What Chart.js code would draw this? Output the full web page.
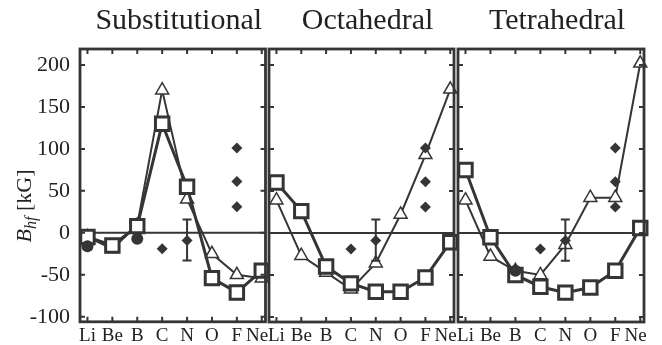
<!DOCTYPE html>
<html>
<head>
<meta charset="utf-8">
<script src="https://cdn.jsdelivr.net/npm/chart.js@4.4.1/dist/chart.umd.min.js"></script>
<style>
  html, body { margin: 0; padding: 0; background: #fff; }
  #wrap { position: relative; width: 662px; height: 345px; }
  #wrap canvas { position: absolute; left: 0; top: 0; }
</style>
</head>
<body>
<div id="wrap">
  <canvas id="sub" width="662" height="345"></canvas>
  <canvas id="oct" width="662" height="345"></canvas>
  <canvas id="tet" width="662" height="345"></canvas>
</div>
<script>
// Impurity elements along the x axis
const elements = ['Li', 'Be', 'B', 'C', 'N', 'O', 'F', 'Ne'];
const yTicks = [-100, -50, 0, 50, 100, 150, 200];

// Calculated hyperfine fields (kG), squares and triangles, per site
const subSquares = [-5, -15, 8, 130, 55, -54, -71, -45];
const subTriangles = [-5, -19, 9, 170, 40, -25, -50, -54];
const octSquares = [60, 26, -40, -60, -70, -70, -53, -11];
const octTriangles = [39, -27, -47, -67, -36, 22, 93, 171];
const tetSquares = [75, -5, -50, -64, -71, -65, -45, 6];
const tetTriangles = [39, -28, -45, -50, -14, 42, 42, 202];

// Experimental values (filled diamonds), same in every panel
const expX = [3, 4, 6, 6, 6];
const expY = [-19, -9, 101, 61, 31];
// Error bar on the N measurement
const errX = 4;
const errLow = -33;
const errHigh = 16;

// Filled circles
const subCircleX = [0, 2];
const subCircleY = [-16, -7];
const tetCircleX = [2];
const tetCircleY = [-45];

const INK = '#353535';
const SERIF = "'Liberation Serif', 'DejaVu Serif', serif";

function pts(xs, ys) { return xs.map((x, i) => ({ x: x, y: ys[i] })); }
function series(ys) { return ys.map((y, i) => ({ x: i, y: y })); }

// Zero line, error bar, panel frame with inward ticks
const framePlugin = {
  id: 'frame',
  beforeDatasetsDraw(chart) {
    const { ctx, chartArea: a, scales: { y } } = chart;
    const y0 = y.getPixelForValue(0);
    ctx.save();
    ctx.strokeStyle = INK;
    ctx.lineWidth = 2;
    ctx.beginPath();
    ctx.moveTo(a.left, y0);
    ctx.lineTo(a.right, y0);
    ctx.stroke();
    ctx.restore();
  },
  afterDatasetsDraw(chart) {
    const { ctx, chartArea: a, scales: { x, y } } = chart;
    ctx.save();
    ctx.strokeStyle = INK;
    // error bar
    const ex = x.getPixelForValue(errX);
    const eLo = y.getPixelForValue(errLow);
    const eHi = y.getPixelForValue(errHigh);
    ctx.lineWidth = 2;
    ctx.beginPath();
    ctx.moveTo(ex, eLo); ctx.lineTo(ex, eHi);
    ctx.moveTo(ex - 4.5, eLo); ctx.lineTo(ex + 4.5, eLo);
    ctx.moveTo(ex - 4.5, eHi); ctx.lineTo(ex + 4.5, eHi);
    ctx.stroke();
    // inward ticks
    const tl = 5;
    ctx.lineWidth = 2;
    ctx.beginPath();
    x.ticks.forEach(t => {
      const px = x.getPixelForValue(t.value);
      ctx.moveTo(px, a.top); ctx.lineTo(px, a.top + tl);
      ctx.moveTo(px, a.bottom); ctx.lineTo(px, a.bottom - tl);
    });
    y.ticks.forEach(t => {
      const py = y.getPixelForValue(t.value);
      ctx.moveTo(a.left, py); ctx.lineTo(a.left + tl, py);
      ctx.moveTo(a.right, py); ctx.lineTo(a.right - tl, py);
    });
    ctx.stroke();
    // frame
    ctx.lineWidth = 2.8;
    ctx.strokeRect(a.left, a.top, a.right - a.left, a.bottom - a.top);
    ctx.restore();
  }
};

// Rotated y-axis title with subscript
const yTitlePlugin = {
  id: 'yTitle',
  afterDraw(chart) {
    const { ctx } = chart;
    const big = 'italic 22px ' + SERIF;
    const small = 'italic 16px ' + SERIF;
    const norm = '22px ' + SERIF;
    ctx.save();
    ctx.font = big; const wB = ctx.measureText('B').width;
    ctx.font = small; const wS = ctx.measureText('hf').width;
    ctx.font = norm; const wU = ctx.measureText(' [kG]').width;
    const total = wB + wS + wU;
    ctx.translate(31, 206);
    ctx.rotate(-Math.PI / 2);
    ctx.fillStyle = '#222';
    ctx.textBaseline = 'alphabetic';
    ctx.textAlign = 'left';
    let cx = -total / 2;
    ctx.font = big; ctx.fillText('B', cx, 0); cx += wB;
    ctx.font = small; ctx.fillText('hf', cx, 5); cx += wS;
    ctx.font = norm; ctx.fillText(' [kG]', cx, 0);
    ctx.restore();
  }
};

function makePanel(id, title, squares, triangles, circles, pad, showY) {
  const datasets = [];
  if (circles) {
    datasets.push({
      type: 'scatter', data: circles, showLine: false,
      pointStyle: 'circle', pointRadius: 6, pointHoverRadius: 6,
      pointBackgroundColor: INK, pointBorderColor: INK, pointBorderWidth: 0
    });
  }
  datasets.push({
    type: 'scatter', data: pts(expX, expY), showLine: false,
    pointStyle: 'rectRot', pointRadius: 5.5, pointHoverRadius: 5.5,
    pointBackgroundColor: INK, pointBorderColor: INK, pointBorderWidth: 0
  });
  datasets.push({
    type: 'line', data: series(squares), borderColor: INK, borderWidth: 3,
    tension: 0, fill: false,
    pointStyle: 'rect', pointRadius: 9.5, pointHoverRadius: 9.5,
    pointBackgroundColor: '#fff', pointBorderColor: INK, pointBorderWidth: 3
  });
  datasets.push({
    type: 'line', data: series(triangles), borderColor: INK, borderWidth: 2,
    tension: 0, fill: false,
    pointStyle: 'triangle', pointRadius: 7.5, pointHoverRadius: 7.5,
    pointBackgroundColor: '#fff', pointBorderColor: INK, pointBorderWidth: 1.5
  });
  datasets.forEach(d => { d.clip = false; });

  const plugins = [framePlugin];
  if (showY) plugins.push(yTitlePlugin);

  return new Chart(document.getElementById(id), {
    type: 'line',
    data: { datasets: datasets },
    plugins: plugins,
    options: {
      responsive: false,
      animation: false,
      devicePixelRatio: 1,
      events: [],
      layout: { padding: pad },
      plugins: {
        legend: { display: false },
        tooltip: { enabled: false },
        title: {
          display: true, text: '\u2009\u2009' + title, fullSize: false, color: '#222',
          font: { family: SERIF, size: 30, weight: 'normal', lineHeight: 1.2 },
          padding: { top: 3.6, bottom: 9.4 }
        }
      },
      scales: {
        x: {
          type: 'linear', min: -0.3, max: 7.15,
          afterBuildTicks(s) { s.ticks = elements.map((_, i) => ({ value: i })); },
          afterFit(s) { s.height = 23; },
          grid: { display: false, drawTicks: false },
          border: { display: false },
          ticks: {
            autoSkip: false, maxRotation: 0, padding: 2.5,
            color: '#222', font: { family: SERIF, size: 19 },
            callback: v => {
              const name = elements[Math.round(v)];
              return name === 'Ne' ? name + '\u2002' : name;
            }
          }
        },
        y: {
          type: 'linear', min: -106, max: 219,
          display: showY,
          afterBuildTicks(s) { s.ticks = yTicks.map(v => ({ value: v })); },
          afterFit(s) { if (showY) s.width = 80; },
          grid: { display: false, drawTicks: false },
          border: { display: false },
          ticks: {
            padding: 10, color: '#222', font: { family: SERIF, size: 22 },
            callback: v => String(v)
          }
        }
      }
    }
  });
}

makePanel('sub', 'Substitutional', subSquares, subTriangles, pts(subCircleX, subCircleY),
  { top: 0, bottom: 0, left: 0, right: 662 - 265.5 }, true);
makePanel('oct', 'Octahedral', octSquares, octTriangles, null,
  { top: 0, bottom: 0, left: 269, right: 662 - 454 }, false);
makePanel('tet', 'Tetrahedral', tetSquares, tetTriangles, pts(tetCircleX, tetCircleY),
  { top: 0, bottom: 0, left: 458, right: 662 - 644 }, false);
</script>
</body>
</html>
